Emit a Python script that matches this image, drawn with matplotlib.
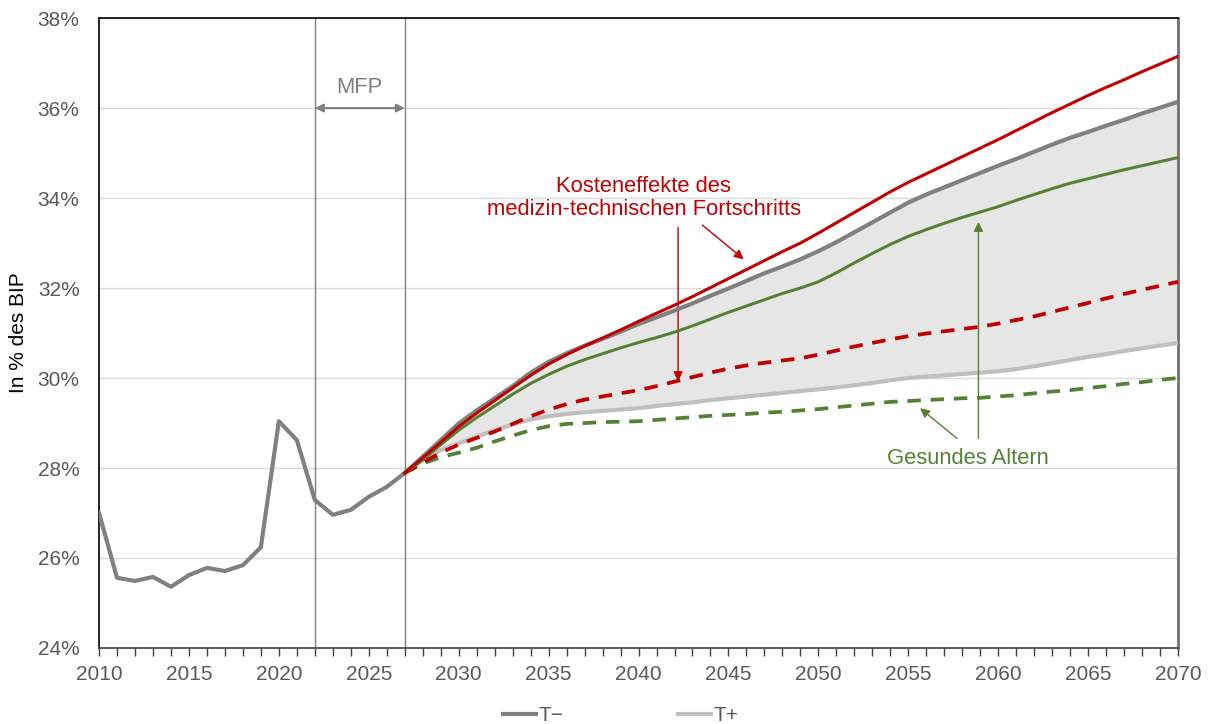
import numpy as np
import matplotlib
matplotlib.use('Agg')
import matplotlib.pyplot as plt
from matplotlib.ticker import MultipleLocator, FuncFormatter

plt.rcParams['font.family'] = ['Liberation Sans', 'DejaVu Sans']

# historical values (T- baseline)
years_hist = list(range(2010, 2028))
hist = [27.00, 25.56, 25.49, 25.58, 25.36, 25.62, 25.78, 25.71, 25.84, 26.24,
        29.04, 28.62, 27.29, 26.96, 27.07, 27.36, 27.58, 27.89]

# projections 2027-2070
years_proj = list(range(2027, 2071))
t_minus = [27.89, 28.25, 28.62, 28.99, 29.28, 29.55, 29.82, 30.12, 30.36, 30.55,
           30.72, 30.87, 31.03, 31.20, 31.35, 31.50, 31.66, 31.83, 31.99, 32.16,
           32.33, 32.48, 32.64, 32.82, 33.02, 33.24, 33.46, 33.68, 33.90, 34.08,
           34.24, 34.40, 34.56, 34.72, 34.87, 35.03, 35.19, 35.34, 35.47, 35.61,
           35.74, 35.88, 36.01, 36.14]
t_plus = [27.89, 28.18, 28.40, 28.55, 28.70, 28.84, 28.97, 29.08, 29.15, 29.20,
          29.24, 29.27, 29.30, 29.33, 29.38, 29.42, 29.46, 29.51, 29.55, 29.59,
          29.63, 29.67, 29.71, 29.75, 29.79, 29.84, 29.89, 29.95, 30.00, 30.03,
          30.06, 30.09, 30.12, 30.15, 30.20, 30.26, 30.33, 30.40, 30.47, 30.53,
          30.60, 30.66, 30.72, 30.78]
kosten = [27.89, 28.23, 28.57, 28.92, 29.22, 29.50, 29.78, 30.06, 30.31, 30.52,
          30.71, 30.89, 31.07, 31.26, 31.44, 31.62, 31.81, 32.01, 32.21, 32.41,
          32.61, 32.81, 33.00, 33.22, 33.45, 33.68, 33.91, 34.14, 34.35, 34.54,
          34.73, 34.92, 35.11, 35.30, 35.50, 35.70, 35.90, 36.09, 36.28, 36.46,
          36.63, 36.81, 36.98, 37.15]
kosten_tplus = [27.89, 28.12, 28.34, 28.52, 28.67, 28.81, 28.98, 29.15, 29.30, 29.42,
                29.52, 29.59, 29.66, 29.73, 29.82, 29.92, 30.02, 30.12, 30.21, 30.28,
                30.34, 30.39, 30.44, 30.52, 30.61, 30.70, 30.78, 30.86, 30.93, 30.99,
                31.04, 31.09, 31.14, 31.21, 31.29, 31.37, 31.47, 31.57, 31.67, 31.77,
                31.87, 31.96, 32.05, 32.14]
gesund = [27.89, 28.18, 28.52, 28.84, 29.12, 29.38, 29.64, 29.88, 30.08, 30.26,
          30.41, 30.54, 30.67, 30.79, 30.90, 31.02, 31.16, 31.31, 31.46, 31.60,
          31.74, 31.88, 32.00, 32.14, 32.34, 32.56, 32.77, 32.97, 33.15, 33.30,
          33.44, 33.57, 33.69, 33.81, 33.95, 34.08, 34.21, 34.33, 34.43, 34.53,
          34.63, 34.72, 34.81, 34.90]
gesund_tplus = [27.89, 28.10, 28.24, 28.34, 28.45, 28.59, 28.72, 28.84, 28.93, 28.98,
                29.00, 29.02, 29.03, 29.04, 29.07, 29.10, 29.13, 29.16, 29.18, 29.20,
                29.23, 29.25, 29.28, 29.31, 29.35, 29.39, 29.43, 29.47, 29.49, 29.51,
                29.53, 29.55, 29.56, 29.59, 29.62, 29.66, 29.70, 29.73, 29.78, 29.82,
                29.87, 29.91, 29.96, 30.00]

mfp_start, mfp_end = 2022, 2027

dark_grey = '#808080'
light_grey = '#bfbfbf'
red = '#c00000'
green = '#548235'
text_grey = '#595959'

fig = plt.figure(figsize=(12.12, 7.24), dpi=100)
ax = fig.add_axes([0.0817, 0.105, 0.8903, 0.870])

ax.fill_between(years_proj, t_plus, t_minus, color='#e7e6e6', lw=0, zorder=1)
ax.axvline(mfp_start, color=dark_grey, lw=1, zorder=2)
ax.axvline(mfp_end, color=dark_grey, lw=1, zorder=2)

ax.plot(years_proj, t_plus, color=light_grey, lw=3, zorder=3, label='T+')
ax.plot(years_hist, hist, color=dark_grey, lw=3, zorder=4, solid_capstyle='round')
ax.plot(years_proj, t_minus, color=dark_grey, lw=3, zorder=4, label='T\u2212')
dash = (0, (3.6, 2.6))
ax.plot(years_proj, gesund_tplus, color=green, lw=2.7, ls=dash, zorder=5, dash_capstyle='butt')
ax.plot(years_proj, kosten_tplus, color=red, lw=2.7, ls=dash, zorder=5, dash_capstyle='butt')
ax.plot(years_proj, gesund, color=green, lw=2.2, zorder=6)
ax.plot(years_proj, kosten, color=red, lw=2.2, zorder=6)

# MFP marker
ax.annotate('', xy=(mfp_start, 36), xytext=(mfp_end, 36),
            arrowprops=dict(arrowstyle='<|-|>', color=dark_grey, lw=1.5, mutation_scale=12,
                            shrinkA=0, shrinkB=0), zorder=7)
ax.text((mfp_start + mfp_end) / 2, 36.45, 'MFP', color=dark_grey, fontsize=15.8,
        ha='center', va='center')

# annotations
ax.text(2040.3, 34.0, 'Kosteneffekte des\nmedizin-technischen Fortschritts', color=red,
        fontsize=15.8, ha='center', va='center', linespacing=1.1)
ax.annotate('', xy=(2042.2, 29.93), xytext=(2042.2, 33.35),
            arrowprops=dict(arrowstyle='-|>', color=red, lw=1, mutation_scale=14,
                            shrinkA=0, shrinkB=0))
ax.annotate('', xy=(2045.85, 32.64), xytext=(2043.55, 33.40),
            arrowprops=dict(arrowstyle='-|>', color=red, lw=1, mutation_scale=14,
                            shrinkA=0, shrinkB=0))

ax.text(2058.3, 28.21, 'Gesundes Altern', color=green, fontsize=15.8, ha='center', va='center')
ax.annotate('', xy=(2058.9, 33.47), xytext=(2058.9, 28.66),
            arrowprops=dict(arrowstyle='-|>', color=green, lw=1, mutation_scale=14,
                            shrinkA=0, shrinkB=0))
ax.annotate('', xy=(2055.65, 29.33), xytext=(2057.7, 28.66),
            arrowprops=dict(arrowstyle='-|>', color=green, lw=1, mutation_scale=14,
                            shrinkA=0, shrinkB=0))

ax.set_xlim(2010, 2070)
ax.set_ylim(24, 38)
ax.xaxis.set_major_locator(MultipleLocator(5))
ax.xaxis.set_minor_locator(MultipleLocator(1))
ax.yaxis.set_major_locator(MultipleLocator(2))
ax.yaxis.set_major_formatter(FuncFormatter(lambda v, p: f'{v:.0f}%'))
ax.grid(axis='y', color='#d9d9d9', lw=1, zorder=0)
ax.set_axisbelow(True)

ax.tick_params(axis='x', which='both', direction='out', length=6, width=1,
               color='#404040', labelsize=15, labelcolor=text_grey, pad=6)
ax.tick_params(axis='y', length=0, labelsize=15, labelcolor=text_grey, pad=14)

for side in ['left', 'top']:
    ax.spines[side].set_color('black')
    ax.spines[side].set_linewidth(1.2)
ax.spines['bottom'].set_color('#404040')
ax.spines['bottom'].set_linewidth(1.2)
ax.spines['right'].set_color('#707070')
ax.spines['right'].set_linewidth(2)

ax.set_ylabel('In % des BIP', fontsize=15, color='black')
ax.yaxis.set_label_coords(-0.066, 0.5)

handles, labels = ax.get_legend_handles_labels()
order = [labels.index('T\u2212'), labels.index('T+')]
fig.legend([handles[i] for i in order], [labels[i] for i in order],
           loc='center', bbox_to_anchor=(0.512, 0.012), ncol=2, frameon=False,
           fontsize=15, labelcolor=text_grey, handlelength=1.6, handletextpad=0.1,
           columnspacing=5.5)

fig.savefig('out.png', dpi=100)
